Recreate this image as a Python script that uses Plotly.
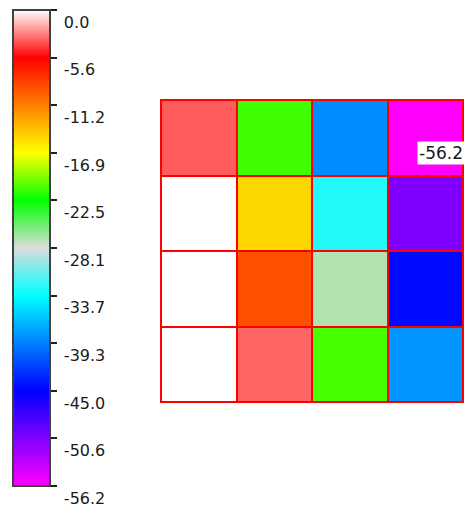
import plotly.graph_objects as go

# Data (rows top to bottom, columns left to right)
z_values = [
    [-3.6, -21.1, -38.8, -56.2],
    [0.0, -15.1, -32.8, -50.6],
    [0.0, -9.1, -27.0, -44.6],
    [0.0, -3.4, -20.9, -38.4],
]
z_min = -56.2
z_max = 0.0
tick_values = [-5.62 * i for i in range(11)]
tick_labels = ["0.0", "-5.6", "-11.2", "-16.9", "-22.5", "-28.1",
               "-33.7", "-39.3", "-45.0", "-50.6", "-56.2"]

colorscale = [
    [0.0, "rgb(255,0,255)"],
    [0.1, "rgb(128,0,255)"],
    [0.2, "rgb(0,0,255)"],
    [0.3, "rgb(0,128,255)"],
    [0.4, "rgb(0,255,255)"],
    [0.5, "rgb(220,220,220)"],
    [0.6, "rgb(0,255,0)"],
    [0.7, "rgb(255,255,0)"],
    [0.8, "rgb(255,128,0)"],
    [0.9, "rgb(255,0,0)"],
    [1.0, "rgb(255,255,255)"],
]

W, H = 474, 510
OFF = 8  # browser default page margin
FONT = "DejaVu Sans"
PAD = "\u00a0\u00a0"  # visual gap between tick mark and label
n_rows = len(z_values)
n_cols = len(z_values[0])

fig = go.Figure(go.Heatmap(
    z=z_values,
    zmin=z_min, zmax=z_max,
    colorscale=colorscale,
    xgap=2, ygap=2,
    colorbar=dict(
        x=(13 - OFF) / W, xanchor="left", xpad=0,
        y=1 - (10 - OFF) / H, yanchor="top", ypad=0,
        lenmode="pixels", len=476,
        thickness=37,
        outlinewidth=2, outlinecolor="#404040",
        tickmode="array", tickvals=tick_values,
        ticktext=[PAD + t for t in tick_labels],
        ticks="outside", ticklen=6, tickwidth=2, tickcolor="#202020",
        ticklabelposition="outside bottom",
        tickfont=dict(family=FONT, size=16, color="#1a1a1a"),
    ),
    hoverinfo="skip",
))

fig.add_annotation(
    x=n_cols - 0.5, y=0.2, xref="x", yref="y",
    text=f"{z_values[0][n_cols - 1]:.1f}",
    showarrow=False, xanchor="right", yanchor="middle", xshift=2,
    bgcolor="white", borderpad=1,
    font=dict(family=FONT, size=17, color="#1a1a1a"),
)

fig.update_layout(
    width=W, height=H,
    margin=dict(l=0, r=0, t=0, b=0, autoexpand=False),
    paper_bgcolor="white",
    plot_bgcolor="red",
    xaxis=dict(domain=[(161 - OFF) / W, (463 - OFF) / W], range=[-0.5, n_cols - 0.5],
               showticklabels=False, ticks="", showgrid=False, zeroline=False,
               showline=True, linecolor="red", linewidth=1, mirror=True),
    yaxis=dict(domain=[1 - (402 - OFF) / H, 1 - (100 - OFF) / H], range=[n_rows - 0.5, -0.5],
               showticklabels=False, ticks="", showgrid=False, zeroline=False,
               showline=True, linecolor="red", linewidth=1, mirror=True),
)

fig.write_html("out.html")
